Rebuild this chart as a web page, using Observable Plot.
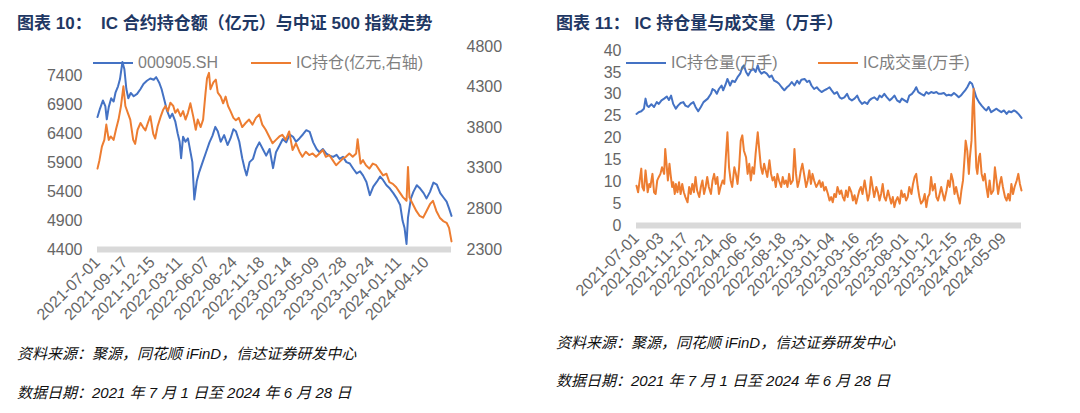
<!DOCTYPE html>
<html><head><meta charset="utf-8">
<script src="https://cdn.jsdelivr.net/npm/d3@7"></script>
<script src="https://cdn.jsdelivr.net/npm/@observablehq/plot@0.6"></script>
<style>
body{margin:0;width:1080px;height:413px;background:#fff;position:relative;overflow:hidden;font-family:"Liberation Sans","Noto Sans CJK SC",sans-serif;}
.title{position:absolute;font-weight:bold;font-size:17px;color:#1f3864;white-space:nowrap;line-height:20px;}
.cap{position:absolute;font-style:italic;font-size:15px;color:#111;white-space:nowrap;line-height:18px;}
.panel{position:absolute;top:30px;}
.leg{position:absolute;font-size:16px;color:#7f7f7f;white-space:nowrap;display:flex;align-items:center;line-height:18px;}
.sw{display:inline-block;width:40px;height:2.5px;margin-right:5px;}
</style></head>
<body>
<div class="title" style="left:17px;top:14px;">图表 10：&nbsp;&nbsp;IC 合约持仓额（亿元）与中证 500 指数走势</div>
<div class="title" style="left:556px;top:14px;">图表 11：&nbsp;IC 持仓量与成交量（万手）</div>
<div class="panel" id="left" style="left:0px;"></div>
<div class="panel" id="right" style="left:540px;"></div>
<div class="leg" style="left:93px;top:54px;"><span class="sw" style="background:#4472C4"></span>000905.SH</div>
<div class="leg" style="left:251px;top:54px;"><span class="sw" style="background:#ED7D31"></span>IC持仓(亿元,右轴)</div>
<div class="leg" style="left:626px;top:54px;"><span class="sw" style="background:#4472C4"></span>IC持仓量(万手)</div>
<div class="leg" style="left:818px;top:54px;"><span class="sw" style="background:#ED7D31"></span>IC成交量(万手)</div>
<div class="cap" style="left:17px;top:345px;">资料来源：聚源，同花顺 iFinD，信达证券研发中心</div>
<div class="cap" style="left:17px;top:384px;">数据日期：2021 年 7 月 1 日至 2024 年 6 月 28 日</div>
<div class="cap" style="left:556px;top:334px;">资料来源：聚源，同花顺 iFinD，信达证券研发中心</div>
<div class="cap" style="left:556px;top:372px;">数据日期：2021 年 7 月 1 日至 2024 年 6 月 28 日</div>
<script>
// ---------- Chart 10: CSI 500 index & IC open-interest value ----------
const leftTickDays = [0,56,112,168,224,280,336,392,448,504,560,616,672];
const leftTickLabels = ["2021-07-01","2021-09-17","2021-12-15","2022-03-11","2022-06-07","2022-08-24","2022-11-18","2023-02-14","2023-05-09","2023-07-28","2023-10-24","2024-01-11","2024-04-10"];
const leftAxisTicks = [4400,4900,5400,5900,6400,6900,7400];
const rightAxisTicks = [2300,2800,3300,3800,4300,4800];

const csiDay = [0,5,11,16,19,23,28,33,37,42,46,51,55,59,63,68,74,81,88,94,101,108,115,120,126,131,137,142,148,153,159,164,168,171,175,180,185,190,194,198,203,208,215,222,229,235,241,246,252,259,266,272,278,283,290,296,301,305,311,318,324,331,338,345,352,359,365,372,379,386,393,400,406,413,420,427,434,441,448,454,461,468,475,482,489,495,502,509,516,523,530,537,543,550,557,564,571,578,584,591,598,605,612,619,624,628,632,635,641,646,653,660,667,673,680,687,694,701,708,714,719,724];
const csiVal = [6684,6826,6969,6872,6645,6855,7008,6951,7111,7213,
7338,7633,7508,7167,7008,7099,7042,7082,7167,7253,
7309,7349,7327,7372,7281,7167,6969,6798,6667,6741,
6610,6400,6258,5974,6343,6258,6315,6088,5906,5264,
5576,5735,5906,6076,6247,6360,6514,6440,6258,6372,
6201,6315,6474,6440,6258,5974,5792,5678,5906,5963,
6133,6247,6133,6019,6133,5803,6076,6190,6304,6247,
6383,6343,6258,6315,6383,6457,6429,6247,6133,6076,
6133,6054,6019,5997,6031,5963,5997,5906,5883,5792,
5713,5747,5678,5565,5337,5485,5565,5656,5599,5508,
5451,5372,5281,5167,4894,4769,4496,4951,5281,5394,
5508,5451,5372,5281,5394,5553,5519,5372,5292,5224,
5110,4979];

const icAmtDay = [0,4,9,14,18,23,27,33,38,43,48,53,57,62,67,73,77,82,88,93,98,103,108,114,118,123,129,134,139,144,149,155,159,164,170,175,180,185,190,196,201,205,211,216,221,224,228,231,237,242,246,252,257,262,267,272,278,283,289,296,303,310,317,324,331,337,344,351,358,365,372,378,385,392,399,406,413,419,426,433,440,447,454,461,467,474,481,488,495,502,508,515,522,529,532,538,543,549,556,563,570,577,584,591,597,604,611,618,625,632,635,638,645,652,659,666,673,680,686,693,700,707,714,719,724];
const icAmtVal = [3296,3400,3567,3650,3838,3650,3692,3650,3783,3900,
4067,4310,4067,3983,3900,3650,3600,3775,3858,3808,
3767,3858,3942,3725,3667,3817,3933,4017,4067,4004,
4108,4067,3983,4025,3942,4004,3900,3983,4100,3933,
3775,3900,3808,3900,4233,4408,4475,4275,4358,4392,
4233,4183,4100,4183,4067,4004,3921,3892,3921,3808,
3858,3900,3838,3921,3963,3838,3775,3692,3608,3650,
3692,3713,3650,3754,3525,3608,3504,3442,3504,3463,
3483,3442,3483,3525,3442,3463,3400,3338,3379,3421,
3442,3483,3442,3483,3658,3358,3400,3338,3296,3358,
3338,3275,3213,3233,3129,3108,3067,3004,2942,2900,
3317,2942,2858,2775,2713,2692,2775,2858,2900,2775,
2692,2650,2629,2567,2400];

// ---------- Chart 11: IC open interest & volume (万手) ----------
const rightTickDays = [0,46,92,138,184,230,276,322,368,414,460,506,552,598,644,690];
const rightTickLabels = ["2021-07-01","2021-09-03","2021-11-17","2022-01-21","2022-04-06","2022-06-15","2022-08-18","2022-10-31","2023-01-04","2023-03-16","2023-05-25","2023-08-01","2023-10-12","2023-12-15","2024-02-28","2024-05-09"];
const volAxisTicks = [0,5,10,15,20,25,30,35,40];

const oiDay = [0,4,9,14,17,20,23,28,33,38,42,47,52,57,61,65,69,74,78,83,88,92,97,102,107,111,116,121,126,130,134,140,143,147,151,155,160,163,168,171,176,180,185,190,195,199,202,206,210,215,220,224,228,231,235,240,245,250,254,259,264,268,273,278,283,287,292,297,302,306,310,316,321,325,329,334,339,344,348,353,358,363,367,372,377,382,386,391,396,400,405,410,415,419,424,429,434,438,442,447,453,457,461,466,471,476,480,485,490,495,499,504,509,513,518,523,526,530,535,541,545,549,554,559,564,568,573,578,583,587,592,597,601,606,610,614,618,622,627,631,635,639,644,649,654,658,662,667,672,677,681,686,691,696,700,705,710,715,719,724];
const oiVal = [25.5,25.9,26.1,26.7,29.0,27.4,27.1,27.7,27.1,28.2,
27.8,28.6,29.0,29.5,28.7,29.7,27.8,26.7,27.4,28.0,
28.2,27.4,27.1,27.8,28.2,27.1,26.1,27.1,28.2,28.6,
29.0,30.1,31.2,30.9,30.1,31.2,32.0,30.9,32.4,33.5,
32.0,33.1,32.8,33.9,34.7,36.2,36.6,35.1,34.3,35.4,
35.8,35.1,36.6,35.4,34.7,35.1,34.7,33.9,34.3,33.1,
32.8,32.4,31.6,30.9,31.6,32.0,32.8,32.0,33.1,32.4,
33.3,33.5,32.8,33.1,32.0,31.2,31.6,30.9,30.5,30.9,
31.2,31.6,30.9,30.1,30.5,29.3,29.0,29.3,30.1,29.0,
28.6,29.0,29.7,28.6,27.8,28.2,27.8,28.6,29.0,29.3,
28.7,29.7,29.3,30.1,29.3,28.6,29.0,29.7,28.6,28.2,
29.0,28.6,28.2,29.7,30.1,30.9,31.6,30.5,30.1,29.7,
30.5,30.1,30.5,30.3,30.5,30.1,30.1,30.3,29.7,29.9,
29.7,30.3,29.9,29.3,29.7,30.3,30.9,31.6,32.8,32.4,
30.9,29.3,28.2,27.4,26.7,26.3,27.1,25.9,26.3,26.7,
26.3,25.9,26.3,25.5,26.1,25.9,26.3,25.9,25.4,24.6];

const volDay = [0,3,6,9,11,14,17,19,21,24,26,30,33,36,39,42,45,48,52,54,57,59,62,64,67,69,72,74,77,80,83,86,89,92,96,99,102,105,108,111,114,118,121,124,127,130,133,136,140,143,146,149,152,155,158,162,165,168,171,174,177,180,184,187,190,193,196,199,202,206,209,212,215,218,221,224,228,231,234,237,240,243,246,250,253,256,259,262,265,268,272,275,278,281,284,287,290,294,297,300,303,306,309,312,316,319,322,325,328,331,334,338,341,344,347,350,353,356,360,363,366,369,372,375,378,382,385,388,391,394,397,400,404,407,410,413,416,419,422,425,429,432,435,438,441,444,447,451,454,457,460,463,466,469,473,476,479,482,485,488,491,495,498,501,504,507,510,513,517,520,523,526,529,532,535,539,542,545,548,551,554,557,561,564,567,570,573,576,579,583,586,589,592,595,598,601,605,608,611,614,617,619,622,625,627,630,632,634,636,639,641,644,646,649,652,655,658,661,664,667,671,674,677,680,683,686,689,693,696,699,702,705,708,711,715,718,721,724];
const volVal = [9.1,7.6,10.3,13.0,8.8,8.0,12.6,10.3,7.6,9.5,
8.8,11.8,7.6,7.2,10.3,11.1,11.8,13.3,11.8,17.5,
13.3,10.3,14.1,11.8,8.8,9.9,7.2,9.5,7.6,9.9,
7.2,9.5,7.6,6.5,5.3,8.8,7.2,9.5,7.6,11.1,
8.0,6.5,8.8,10.3,7.2,8.8,11.1,8.8,7.2,10.3,
11.8,9.5,11.1,7.2,8.8,10.3,9.5,15.6,21.3,13.3,
10.3,8.8,13.3,11.8,9.5,13.3,19.4,20.6,17.1,15.6,
11.8,14.1,10.3,13.3,11.8,16.4,21.3,17.1,13.3,11.8,
14.1,12.6,11.1,14.9,11.8,10.3,11.1,8.8,11.8,10.3,
8.8,11.1,9.5,10.3,8.8,11.8,9.5,10.3,17.5,11.8,
8.8,10.3,12.6,14.1,11.1,8.8,10.3,12.6,9.5,11.8,
10.3,8.8,9.5,10.3,8.8,9.9,8.0,8.8,7.2,5.7,
6.5,5.3,7.2,6.5,8.8,7.2,8.0,6.5,5.7,8.0,
6.5,8.8,7.6,5.7,6.9,5.0,6.5,8.0,8.8,7.2,
10.3,8.0,5.7,7.2,11.1,8.8,6.5,8.8,7.6,5.7,
7.2,9.5,6.5,5.7,8.0,6.5,5.0,6.5,4.2,5.7,
6.5,5.0,8.0,6.5,7.2,5.7,6.5,8.8,7.2,9.5,
11.1,11.8,8.8,6.5,5.0,5.7,7.2,4.2,6.5,7.2,
11.1,8.0,9.5,6.5,5.7,7.2,8.8,7.2,5.7,8.0,
10.3,8.8,11.8,10.3,7.2,8.8,6.5,5.0,8.0,10.3,
15.6,19.4,17.1,11.8,15.6,19.4,27.1,31.2,23.2,13.3,
11.8,15.6,16.4,11.8,10.3,11.8,8.8,6.5,10.3,7.2,
8.0,13.3,10.3,7.2,9.5,11.1,8.8,6.5,5.7,7.2,
5.7,9.5,7.2,8.8,10.3,11.8,9.5,8.0];

const BLUE = "#4472C4", ORANGE = "#ED7D31", GRID = "#d9d9d9", AX = "#666666";
const FONT = "'Liberation Sans','Noto Sans CJK SC',sans-serif";

const csi = csiDay.map((d,i)=>({day:d, val:csiVal[i]}));
const icAmt = icAmtDay.map((d,i)=>({day:d, val:icAmtVal[i]}));
const oi = oiDay.map((d,i)=>({day:d, val:oiVal[i]}));
const vol = volDay.map((d,i)=>({day:d, val:volVal[i]}));

// secondary axis mapping (right axis 2300..4800 onto left 4400..7900)
const L0 = 4400, L1 = 7900, R0 = 2300, R1 = 4800;
const toLeft = v => L0 + (v - R0) * (L1 - L0) / (R1 - R0);
const fromLeft = v => R0 + (v - L0) * (R1 - R0) / (L1 - L0);

const leftLabel = new Map(leftTickDays.map((d,i)=>[d, leftTickLabels[i]]));
const rightLabel = new Map(rightTickDays.map((d,i)=>[d, rightTickLabels[i]]));

const p1 = Plot.plot({
  width: 540, height: 310,
  marginLeft: 97, marginRight: 89, marginTop: 16, marginBottom: 91,
  style: {fontFamily: FONT, fontSize: "16px", color: AX, background: "transparent"},
  x: {domain: [0, 724], axis: null},
  y: {domain: [L0, L1], axis: null},
  marks: [
    Plot.ruleY([L0], {stroke: GRID, strokeWidth: 6}),
    Plot.axisY({anchor: "left", label: null, ticks: leftAxisTicks, tickSize: 0, tickPadding: 15, tickFormat: d => String(d), fill: AX}),
    Plot.axisY({anchor: "right", label: null, ticks: rightAxisTicks.map(toLeft), tickSize: 0, tickPadding: 15, tickFormat: d => String(Math.round(fromLeft(d))), fill: AX}),
    Plot.axisX({label: null, ticks: leftTickDays, tickSize: 0, tickPadding: 10, tickRotate: -45, tickFormat: d => leftLabel.get(d), fill: AX}),
    Plot.line(csi, {x: "day", y: "val", stroke: BLUE, strokeWidth: 2}),
    Plot.line(icAmt, {x: "day", y: d => toLeft(d.val), stroke: ORANGE, strokeWidth: 2})
  ]
});
document.getElementById("left").appendChild(p1);

const p2 = Plot.plot({
  width: 540, height: 310,
  marginLeft: 96, marginRight: 59, marginTop: 20, marginBottom: 115,
  style: {fontFamily: FONT, fontSize: "16px", color: AX, background: "transparent"},
  x: {domain: [0, 724], axis: null},
  y: {domain: [0, 40], axis: null},
  marks: [
    Plot.ruleY([0], {stroke: GRID, strokeWidth: 6}),
    Plot.axisY({anchor: "left", label: null, ticks: volAxisTicks, tickSize: 0, tickPadding: 15, fill: AX}),
    Plot.axisX({label: null, ticks: rightTickDays, tickSize: 0, tickPadding: 10, tickRotate: -45, tickFormat: d => rightLabel.get(d), fill: AX}),
    Plot.line(oi, {x: "day", y: "val", stroke: BLUE, strokeWidth: 2}),
    Plot.line(vol, {x: "day", y: "val", stroke: ORANGE, strokeWidth: 2})
  ]
});
document.getElementById("right").appendChild(p2);
</script>
</body></html>
